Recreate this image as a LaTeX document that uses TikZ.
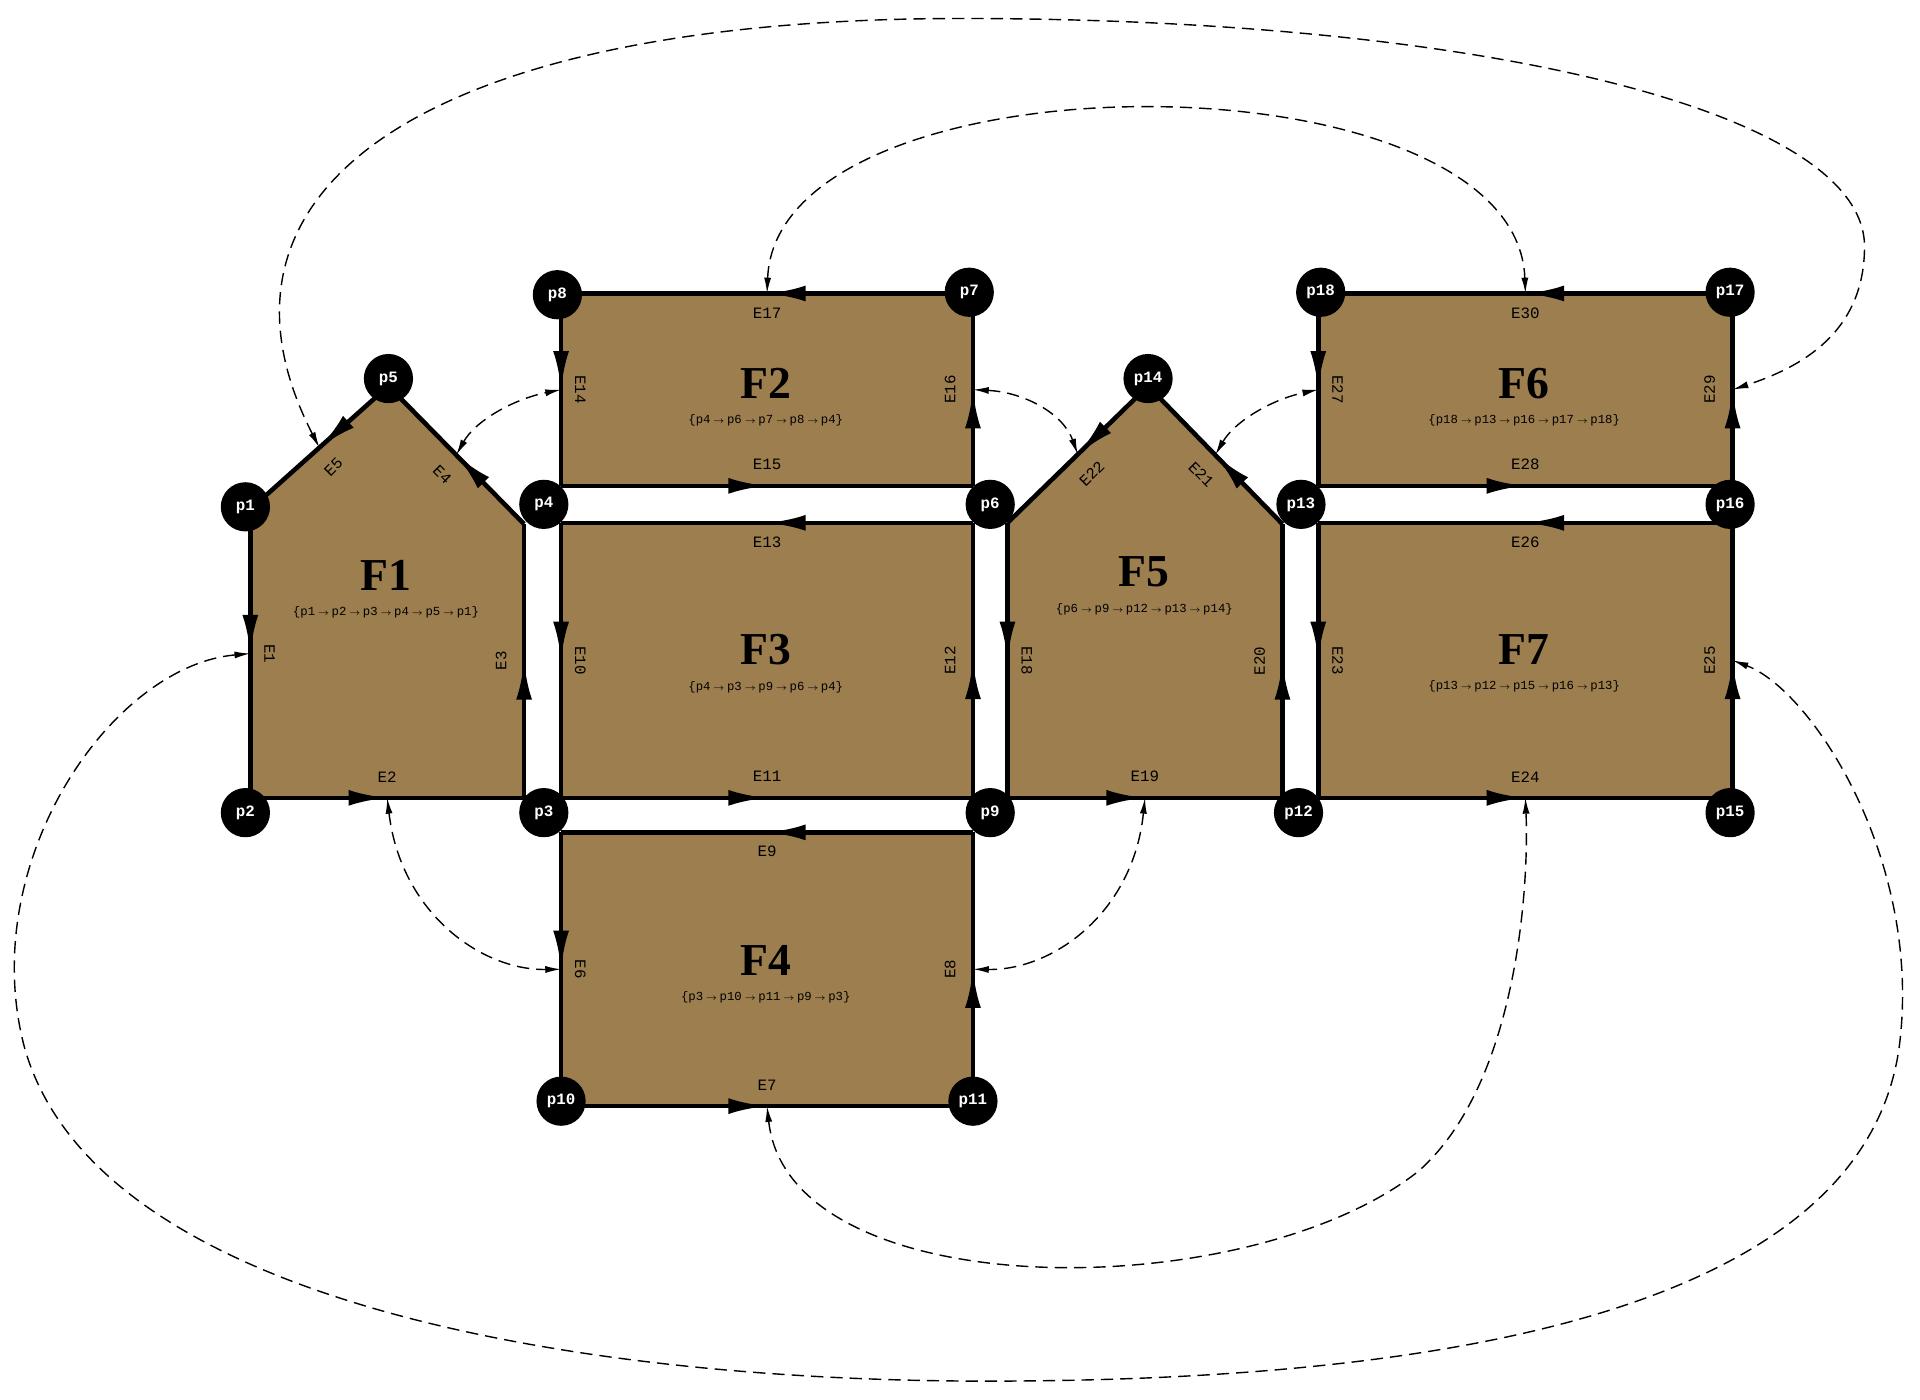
\documentclass[tikz,border=0pt]{standalone}
\usepackage{fontspec}
\setmainfont{Liberation Mono}
\newfontfamily\facefont{Liberation Serif}
\usetikzlibrary{arrows.meta,calc,decorations.markings}
\definecolor{facecol}{HTML}{9C7E4F}
\tikzset{
  face/.style={fill=facecol},
  hedge/.style={line width=2.6pt,postaction={decorate},
    decoration={markings,mark=at position 0.5 with {\arrow{Latex[length=22pt,width=9pt]}}}},
  elab/.style={font=\fontsize{9}{9}\selectfont,inner sep=0pt},
  vtx/.style={circle,fill=black,minimum size=28pt,inner sep=0pt,text=white,font=\bfseries\fontsize{9}{9}\selectfont},
  flab/.style={font=\facefont\bfseries\fontsize{26}{26}\selectfont},
  cyc/.style={font=\fontsize{7}{7}\selectfont},
  twin/.style={line width=0.8pt,dash pattern=on 7pt off 4pt,{Latex[length=9pt,width=4pt]}-{Latex[length=9pt,width=4pt]}},
}
\newcommand{\hedge}[4]{\draw[hedge] (#1) -- (#2) node[elab,midway,#4] {#3};}
\begin{document}
\begin{tikzpicture}[x=0.024663cm,y=-0.024663cm]
\useasboundingbox (0,0) rectangle (1557,1135);
% face corners
\coordinate (a1) at (203,413); \coordinate (a2) at (203,647); \coordinate (a3) at (425,647);
\coordinate (a4) at (425,425); \coordinate (a5) at (315,313);
\coordinate (b1) at (455,238); \coordinate (b2) at (455,394); \coordinate (b3) at (789,394); \coordinate (b4) at (789,238);
\coordinate (c1) at (455,424); \coordinate (c2) at (455,647); \coordinate (c3) at (789,647); \coordinate (c4) at (789,424);
\coordinate (d1) at (455,675); \coordinate (d2) at (455,897); \coordinate (d3) at (789,897); \coordinate (d4) at (789,675);
\coordinate (e1) at (817,424); \coordinate (e2) at (817,647); \coordinate (e3) at (1040,647);
\coordinate (e4) at (1040,425); \coordinate (e5) at (931,313);
\coordinate (g1) at (1069,238); \coordinate (g2) at (1069,394); \coordinate (g3) at (1405,394); \coordinate (g4) at (1405,238);
\coordinate (h1) at (1069,424); \coordinate (h2) at (1069,647); \coordinate (h3) at (1405,647); \coordinate (h4) at (1405,424);

% faces
\fill[face] (a1) -- (a2) -- (a3) -- (a4) -- (a5) -- cycle;
\foreach \f in {b,c,d,g,h} \fill[face] (\f1) -- (\f2) -- (\f3) -- (\f4) -- cycle;
\fill[face] (e1) -- (e2) -- (e3) -- (e4) -- (e5) -- cycle;

% half edges
\hedge{a1}{a2}{E1}{xshift=11pt,rotate=-90}
\hedge{a2}{a3}{E2}{yshift=12pt}
\hedge{a3}{a4}{E3}{xshift=-13pt,rotate=90}
\hedge{a4}{a5}{E4}{xshift=-8pt,yshift=-11pt,rotate=-45}
\hedge{a5}{a1}{E5}{xshift=8pt,yshift=-11pt,rotate=45}
\hedge{b1}{b2}{E14}{xshift=11pt,rotate=-90}
\hedge{b2}{b3}{E15}{yshift=12pt}
\hedge{b3}{b4}{E16}{xshift=-13pt,rotate=90}
\hedge{b4}{b1}{E17}{yshift=-11pt}
\hedge{c1}{c2}{E10}{xshift=11pt,rotate=-90}
\hedge{c2}{c3}{E11}{yshift=12pt}
\hedge{c3}{c4}{E12}{xshift=-13pt,rotate=90}
\hedge{c4}{c1}{E13}{yshift=-11pt}
\hedge{d1}{d2}{E6}{xshift=11pt,rotate=-90}
\hedge{d2}{d3}{E7}{yshift=12pt}
\hedge{d3}{d4}{E8}{xshift=-13pt,rotate=90}
\hedge{d4}{d1}{E9}{yshift=-11pt}
\hedge{e1}{e2}{E18}{xshift=11pt,rotate=-90}
\hedge{e2}{e3}{E19}{yshift=12pt}
\hedge{e3}{e4}{E20}{xshift=-13pt,rotate=90}
\hedge{e4}{e5}{E21}{xshift=-8pt,yshift=-11pt,rotate=-45}
\hedge{e5}{e1}{E22}{xshift=8pt,yshift=-11pt,rotate=45}
\hedge{g1}{g2}{E27}{xshift=11pt,rotate=-90}
\hedge{g2}{g3}{E28}{yshift=12pt}
\hedge{g3}{g4}{E29}{xshift=-13pt,rotate=90}
\hedge{g4}{g1}{E30}{yshift=-11pt}
\hedge{h1}{h2}{E23}{xshift=11pt,rotate=-90}
\hedge{h2}{h3}{E24}{yshift=12pt}
\hedge{h3}{h4}{E25}{xshift=-13pt,rotate=90}
\hedge{h4}{h1}{E26}{yshift=-11pt}

% face labels
\foreach \n/\x/\y/\c in {
  F1/313/467/{p1,p2,p3,p4,p5,p1},
  F2/621/311/{p4,p6,p7,p8,p4},
  F3/621/527/{p4,p3,p9,p6,p4},
  F4/621/779/{p3,p10,p11,p9,p3},
  F5/928/464/{p6,p9,p12,p13,p14},
  F6/1236/311/{p18,p13,p16,p17,p18},
  F7/1236/527/{p13,p12,p15,p16,p13}}{
  \node[flab] (lab\n) at (\x,\y) {\n};
  \node[cyc,anchor=north] at ([yshift=-2pt]lab\n.south) {\{\foreach[count=\i] \p in \c {\ifnum\i>1 $\,\scriptstyle\rightarrow\,$\fi\p}\}};
}

% twin links
\draw[twin] ($(a5)!.5!(a1)$) .. controls (150,150) and (350,15) .. (780,15)
  .. controls (1200,15) and (1512,90) .. (1512,200) .. controls (1512,270) and (1460,298) .. ($(g3)!.5!(g4)$);
\draw[twin] ($(a4)!.5!(a5)$) .. controls (385,342) and (415,324) .. ($(b1)!.5!(b2)$);
\draw[twin] ($(b3)!.5!(b4)$) .. controls (830,318) and (862,335) .. ($(e5)!.5!(e1)$);
\draw[twin] ($(e4)!.5!(e5)$) .. controls (1001,342) and (1031,324) .. ($(g1)!.5!(g2)$);
\draw[twin] ($(b4)!.5!(b1)$) .. controls (630,40) and (1230,40) .. ($(g4)!.5!(g1)$);
\draw[twin] ($(a2)!.5!(a3)$) .. controls (325,740) and (390,787) .. ($(d1)!.5!(d2)$);
\draw[twin] ($(e2)!.5!(e3)$) .. controls (919,740) and (854,787) .. ($(d3)!.5!(d4)$);
\draw[twin] ($(d2)!.5!(d3)$) .. controls (640,1060) and (1010,1060) .. (1150,950)
  .. controls (1230,880) and (1240,720) .. ($(h2)!.5!(h3)$);
\draw[twin] ($(a1)!.5!(a2)$) .. controls (90,540) and (-20,700) .. (20,850)
  .. controls (80,1060) and (480,1120) .. (800,1120)
  .. controls (1180,1120) and (1510,1060) .. (1540,850)
  .. controls (1560,700) and (1470,560) .. ($(h3)!.5!(h4)$);

% vertices
\foreach \n/\x/\y in {p1/199/411,p2/199/659,p3/441/659,p4/441/409,p5/315/307,
  p6/803/409,p7/786/237,p8/452/239,p9/803/659,p10/455/893,p11/789/893,
  p12/1053/659,p13/1055/409,p14/931/307,p15/1403/659,p16/1403/409,p17/1403/237,p18/1071/237}
  \node[vtx] (\n) at (\x,\y) {\n};
\end{tikzpicture}
\end{document}
